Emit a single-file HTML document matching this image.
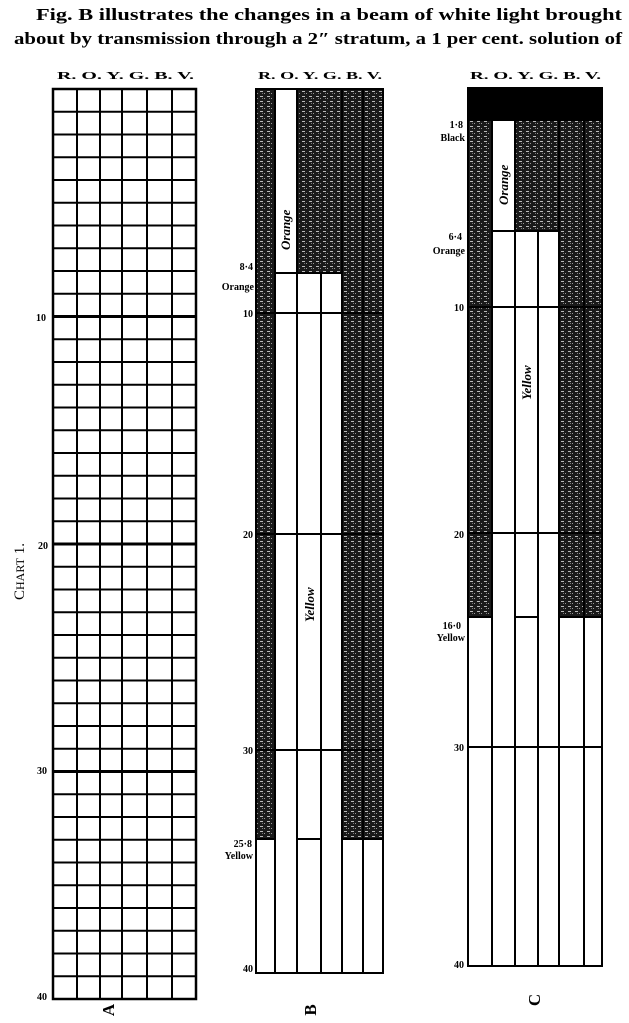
<!DOCTYPE html>
<html><head><meta charset="utf-8"><style>
html,body{margin:0;padding:0;background:#fff;}
svg{display:block;}
text{font-family:"Liberation Serif",serif;fill:#000;}
</style></head><body>
<svg width="629" height="1023" viewBox="0 0 629 1023" xmlns="http://www.w3.org/2000/svg">
<defs>
<pattern id="h" width="7" height="5" patternUnits="userSpaceOnUse">
<rect width="7" height="5" fill="#1a1a1a"/>
<rect x="1" y="1" width="3" height="1" fill="#bbb"/>
<rect x="5" y="3" width="1" height="1" fill="#999"/>
<rect x="3" y="3" width="1" height="1" fill="#777"/>
</pattern>
</defs>
<text x="36" y="20" font-size="16.5" font-weight="bold" textLength="586" lengthAdjust="spacingAndGlyphs">Fig. B illustrates the changes in a beam of white light brought</text>
<text x="14" y="44" font-size="16.5" font-weight="bold" textLength="608" lengthAdjust="spacingAndGlyphs">about by transmission through a 2″ stratum, a 1 per cent. solution of</text>

<!-- Chart A -->
<text x="57" y="79" font-size="11" font-weight="bold" textLength="137" lengthAdjust="spacingAndGlyphs">R. O. Y. G. B. V.</text>
<g stroke="#000" stroke-width="2" fill="none">
<rect x="53" y="89" width="143" height="910" stroke-width="2.5"/>
<path d="M77 89V999M100 89V999M122 89V999M147 89V999M172 89V999"/>
<path d="
M53 111.75H196M53 134.5H196M53 157.25H196M53 180H196M53 202.75H196M53 225.5H196M53 248.25H196M53 271H196M53 293.75H196
M53 339.25H196M53 362H196M53 384.75H196M53 407.5H196M53 430.25H196M53 453H196M53 475.75H196M53 498.5H196M53 521.25H196
M53 566.75H196M53 589.5H196M53 612.25H196M53 635H196M53 657.75H196M53 680.5H196M53 703.25H196M53 726H196M53 748.75H196
M53 794.25H196M53 817H196M53 839.75H196M53 862.5H196M53 885.25H196M53 908H196M53 930.75H196M53 953.5H196M53 976.25H196"/>
<path d="M53 316.5H196M53 544H196M53 771.5H196" stroke-width="3"/>
</g>
<text x="36" y="321" font-size="10" font-weight="bold">10</text>
<text x="38" y="549" font-size="10" font-weight="bold">20</text>
<text x="37" y="774" font-size="10" font-weight="bold">30</text>
<text x="37" y="1000" font-size="10" font-weight="bold">40</text>
<text transform="translate(24,600) rotate(-90)" font-size="15">C<tspan font-size="12">HART</tspan> 1.</text>
<text transform="translate(114,1010) rotate(-90)" font-size="17" font-weight="bold" text-anchor="middle">A</text>

<!-- Chart B -->
<text x="258" y="79" font-size="11" font-weight="bold" textLength="124" lengthAdjust="spacingAndGlyphs">R. O. Y. G. B. V.</text>
<rect x="256" y="89" width="19" height="750" fill="url(#h)"/>
<rect x="297" y="89" width="45" height="184" fill="url(#h)"/>
<rect x="342" y="89" width="41" height="750" fill="url(#h)"/>
<g stroke="#000" stroke-width="2" fill="none">
<rect x="256" y="89" width="127" height="884"/>
<path d="M275 89V973M297 89V973M321 273V973M342 89V973M363 89V973"/>
<path d="M275 273H342M256 313H383M256 534H383M256 750H383M297 839H321M256 839H275M342 839H383"/>
</g>
<text transform="translate(290,250) rotate(-90)" font-size="13" font-weight="bold" font-style="italic" font-family="Liberation Sans,sans-serif">Orange</text>
<text transform="translate(314,622) rotate(-90)" font-size="13" font-weight="bold" font-style="italic" font-family="Liberation Sans,sans-serif">Yellow</text>
<text x="253" y="270" font-size="10" font-weight="bold" text-anchor="end">8·4</text>
<text x="254" y="290" font-size="10" font-weight="bold" text-anchor="end">Orange</text>
<text x="253" y="317" font-size="10" font-weight="bold" text-anchor="end">10</text>
<text x="253" y="538" font-size="10" font-weight="bold" text-anchor="end">20</text>
<text x="253" y="754" font-size="10" font-weight="bold" text-anchor="end">30</text>
<text x="252" y="847" font-size="10" font-weight="bold" text-anchor="end">25·8</text>
<text x="253" y="859" font-size="10" font-weight="bold" text-anchor="end">Yellow</text>
<text x="253" y="972" font-size="10" font-weight="bold" text-anchor="end">40</text>
<text transform="translate(316,1010) rotate(-90)" font-size="17" font-weight="bold" text-anchor="middle">B</text>

<!-- Chart C -->
<text x="470" y="79" font-size="11" font-weight="bold" textLength="131" lengthAdjust="spacingAndGlyphs">R. O. Y. G. B. V.</text>
<rect x="468" y="88" width="134" height="33" fill="#000"/>
<rect x="468" y="121" width="24" height="496" fill="url(#h)"/>
<rect x="515" y="121" width="44" height="110" fill="url(#h)"/>
<rect x="559" y="121" width="43" height="496" fill="url(#h)"/>
<g stroke="#000" stroke-width="2" fill="none">
<rect x="468" y="88" width="134" height="878"/>
<path d="M492 121V966M515 121V966M538 231V966M559 121V966M584 121V966"/>
<path d="M492 231H559M468 307H602M468 533H602M468 747H602M515 617H538M468 617H492M559 617H602"/>
</g>
<text transform="translate(508,205) rotate(-90)" font-size="13" font-weight="bold" font-style="italic" font-family="Liberation Sans,sans-serif">Orange</text>
<text transform="translate(531,400) rotate(-90)" font-size="13" font-weight="bold" font-style="italic" font-family="Liberation Sans,sans-serif">Yellow</text>
<text x="463" y="128" font-size="10" font-weight="bold" text-anchor="end">1·8</text>
<text x="465" y="141" font-size="10" font-weight="bold" text-anchor="end">Black</text>
<text x="462" y="240" font-size="10" font-weight="bold" text-anchor="end">6·4</text>
<text x="465" y="254" font-size="10" font-weight="bold" text-anchor="end">Orange</text>
<text x="464" y="311" font-size="10" font-weight="bold" text-anchor="end">10</text>
<text x="464" y="538" font-size="10" font-weight="bold" text-anchor="end">20</text>
<text x="461" y="629" font-size="10" font-weight="bold" text-anchor="end">16·0</text>
<text x="465" y="641" font-size="10" font-weight="bold" text-anchor="end">Yellow</text>
<text x="464" y="751" font-size="10" font-weight="bold" text-anchor="end">30</text>
<text x="464" y="968" font-size="10" font-weight="bold" text-anchor="end">40</text>
<text transform="translate(540,1000) rotate(-90)" font-size="17" font-weight="bold" text-anchor="middle">C</text>
</svg>
</body></html>
